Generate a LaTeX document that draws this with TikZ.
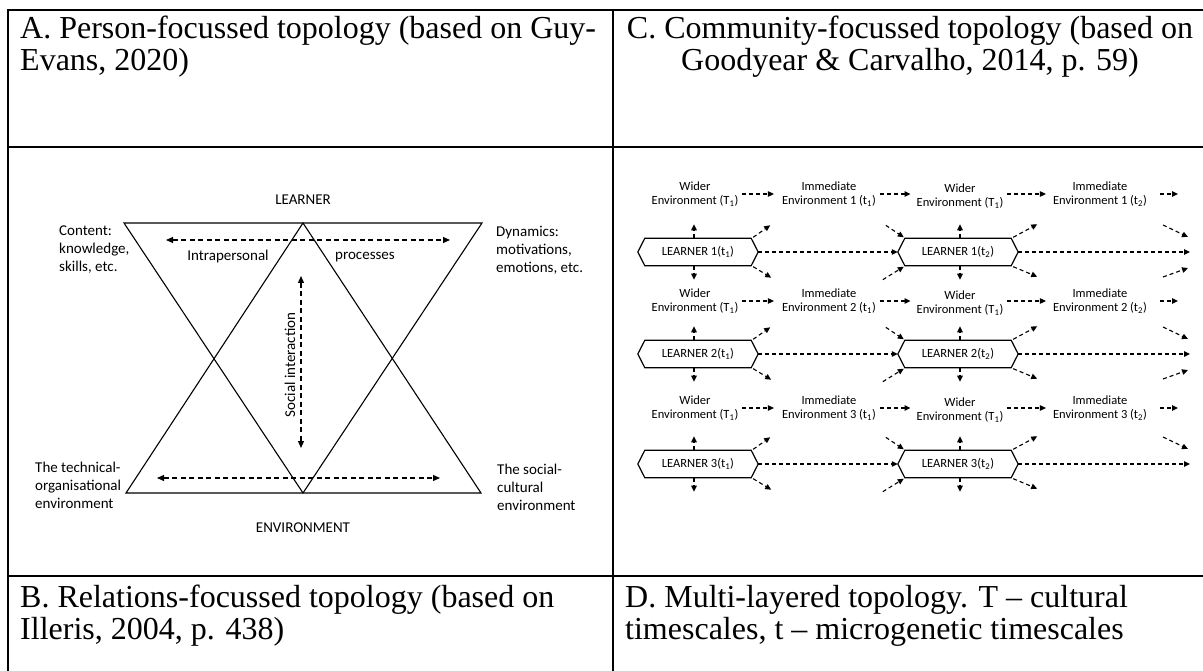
\documentclass[tikz,border=0pt]{standalone}
\usepackage{fontspec}
\setmainfont{Liberation Serif}
\newfontfamily\calib{Carlito}
\usetikzlibrary{arrows.meta,calc}
\begin{document}
\begin{tikzpicture}[x=1pt,y=-1pt,
  tbl/.style={line width=1.8pt},
  captxt/.style={font=\fontsize{32}{32}\selectfont, inner sep=0pt, anchor=base west},
  captxtc/.style={font=\fontsize{32}{32}\selectfont, inner sep=0pt, anchor=base},
  tri/.style={line width=1.1pt, line join=miter},
  alab/.style={font=\calib\fontsize{15}{18}\selectfont, inner sep=0pt, align=left},
  aarr/.style={line width=1.2pt, dash pattern=on 5pt off 3.5pt, {Triangle[length=7pt,width=6pt]}-{Triangle[length=7pt,width=6pt]}},
  dlab/.style={font=\calib\fontsize{12.5}{14}\selectfont, inner sep=0pt, align=center},
  darr/.style={line width=1.1pt, dash pattern=on 4pt off 3pt, -{Triangle[length=6pt,width=5.5pt]}},
  lbox/.style={font=\calib\fontsize{12.5}{14}\selectfont, inner sep=0pt, minimum width=106pt, minimum height=27pt},
  hex/.style={line width=1.2pt, line join=miter}]
\useasboundingbox (0,0) rectangle (1203,671);
\fill[white] (0,0) rectangle (1203,671);
% table
\draw[tbl] (8,10) -- (1203,10);
\draw[tbl] (8,9.1) -- (8,671);
\draw[tbl] (613,10) -- (613,671);
\draw[tbl] (8,147) -- (1203,147);
\draw[tbl] (8,576) -- (1203,576);
% captions
\node[captxt] (capA1) at (20,39) {A. Person-focussed topology (based on Guy-};
\node[captxt] (capA2) at (20,71) {Evans, 2020)};
\node[captxtc] (capC1) at (910,39) {C. Community-focussed topology (based on};
\node[captxtc] (capC2) at (910,71) {Goodyear \& Carvalho, 2014, p. 59)};
\node[captxt] (capB1) at (20,607) {B. Relations-focussed topology (based on};
\node[captxt] (capB2) at (20,639) {Illeris, 2004, p. 438)};
\node[captxt] (capD1) at (625,607) {D. Multi-layered topology. T – cultural};
\node[captxt] (capD2) at (625,639) {timescales, t – microgenetic timescales};
% panel A
\coordinate (uTL) at (124,223); \coordinate (uTR) at (482,223); \coordinate (uB) at (303,493);
\coordinate (lT) at (303,223); \coordinate (lBL) at (126,493); \coordinate (lBR) at (481,493);
\draw[tri] (uTL) -- (uTR) -- (uB) -- cycle;
\draw[tri] (lT) -- (lBR) -- (lBL) -- cycle;
\node[alab] (learner) at (303,200) {LEARNER};
\node[alab, anchor=west] (content) at (59,250) {Content:\\knowledge,\\skills, etc.};
\node[alab, anchor=west] (dyn) at (496,250) {Dynamics:\\motivations,\\emotions, etc.};
\node[alab] (intra) at (228,257) {Intrapersonal};
\node[alab] (proc) at (365,257) {processes};
\node[alab, rotate=90] (social) at (290,365) {Social interaction};
\node[alab, anchor=west] (tech) at (35,485) {The technical-\\organisational\\environment};
\node[alab, anchor=west] (soccult) at (497,487) {The social-\\cultural\\environment};
\node[alab] (env) at (303,528) {ENVIRONMENT};
\coordinate (ha1) at (166,240); \coordinate (ha2) at (450,240);
\coordinate (va1) at (301,276); \coordinate (va2) at (301,448);
\coordinate (hb1) at (157,478); \coordinate (hb2) at (440,478);
\draw[aarr] (ha1) -- (ha2);
\draw[aarr] (va1) -- (va2);
\draw[aarr] (hb1) -- (hb2);
% panel D
\foreach \r/\yl/\yb in {1/194/252, 2/301/354, 3/408/464}{
  \node[dlab] (w\r) at (695,\yl) {Wider\\Environment (T\textsubscript{1})};
  \node[dlab] (i\r) at (829,\yl) {Immediate\\Environment \r{} (t\textsubscript{1})};
  \node[dlab] (v\r) at (960,{\yl+2}) {Wider\\Environment (T\textsubscript{1})};
  \node[dlab] (j\r) at (1100,\yl) {Immediate\\Environment \r{} (t\textsubscript{2})};
  \coordinate (je\r) at (1178,\yl);
  \node[lbox] (La\r) at (698,\yb) {LEARNER \r(t\textsubscript{1})};
  \node[lbox] (Lb\r) at (958,\yb) {LEARNER \r(t\textsubscript{2})};
  \coordinate (Lbe\r) at (1190,\yb);
  \foreach \b in {La\r,Lb\r}{
    \draw[hex] (\b.north west) -- (\b.north east) -- ([xshift=7pt]\b.east) -- (\b.south east) -- (\b.south west) -- ([xshift=-7pt]\b.west) -- cycle;
  }
  % label arrows
  \draw[darr, shorten <=4pt, shorten >=8pt] (w\r.east) -- (w\r.east -| i\r.west);
  \draw[darr, shorten <=4pt, shorten >=6pt] (i\r.east) -- (i\r.east -| v\r.west);
  \draw[darr, shorten <=4pt, shorten >=7pt] (v\r.east |- j\r.east) -- (j\r.west);
  \draw[darr, shorten <=13pt] (j\r.east) -- (je\r);
  % learner arrows
  \draw[darr] ([xshift=7pt]La\r.east) -- ([xshift=-7pt]Lb\r.west);
  \draw[darr] ([xshift=7pt]Lb\r.east) -- (Lbe\r);
  \draw[darr] ([xshift=-4pt]La\r.north) -- ++(0,-14);
  \draw[darr] ([xshift=-4pt]La\r.south) -- ++(0,14);
  \draw[darr] ([xshift=2pt]Lb\r.north) -- ++(0,-14);
  \draw[darr] ([xshift=2pt]Lb\r.south) -- ++(0,14);
  \draw[darr] ([shift={(2,-1)}]La\r.north east) -- ++(17,-12);
  \draw[darr] ([shift={(2,1)}]La\r.south east) -- ++(18,11);
  \draw[darr] ([shift={(-19,-13)}]Lb\r.north west) -- ([shift={(-1,-1)}]Lb\r.north west);
  \draw[darr] ([shift={(-22,14)}]Lb\r.south west) -- ([shift={(-1,1)}]Lb\r.south west);
  \draw[darr] ([shift={(2,-1)}]Lb\r.north east) -- ++(24,-13);
  \draw[darr] ([shift={(2,1)}]Lb\r.south east) -- ++(24,10);
  \coordinate (fa\r) at (1163,{\yb-27}); \coordinate (fb\r) at (1188,{\yb-15});
  \draw[darr] (fa\r) -- (fb\r);
}
\foreach \r/\yb in {1/252, 2/354}{
  \coordinate (ga\r) at (1163,{\yb+25}); \coordinate (gb\r) at (1188,{\yb+16});
  \draw[darr] (ga\r) -- (gb\r);
}
\end{tikzpicture}
\end{document}
